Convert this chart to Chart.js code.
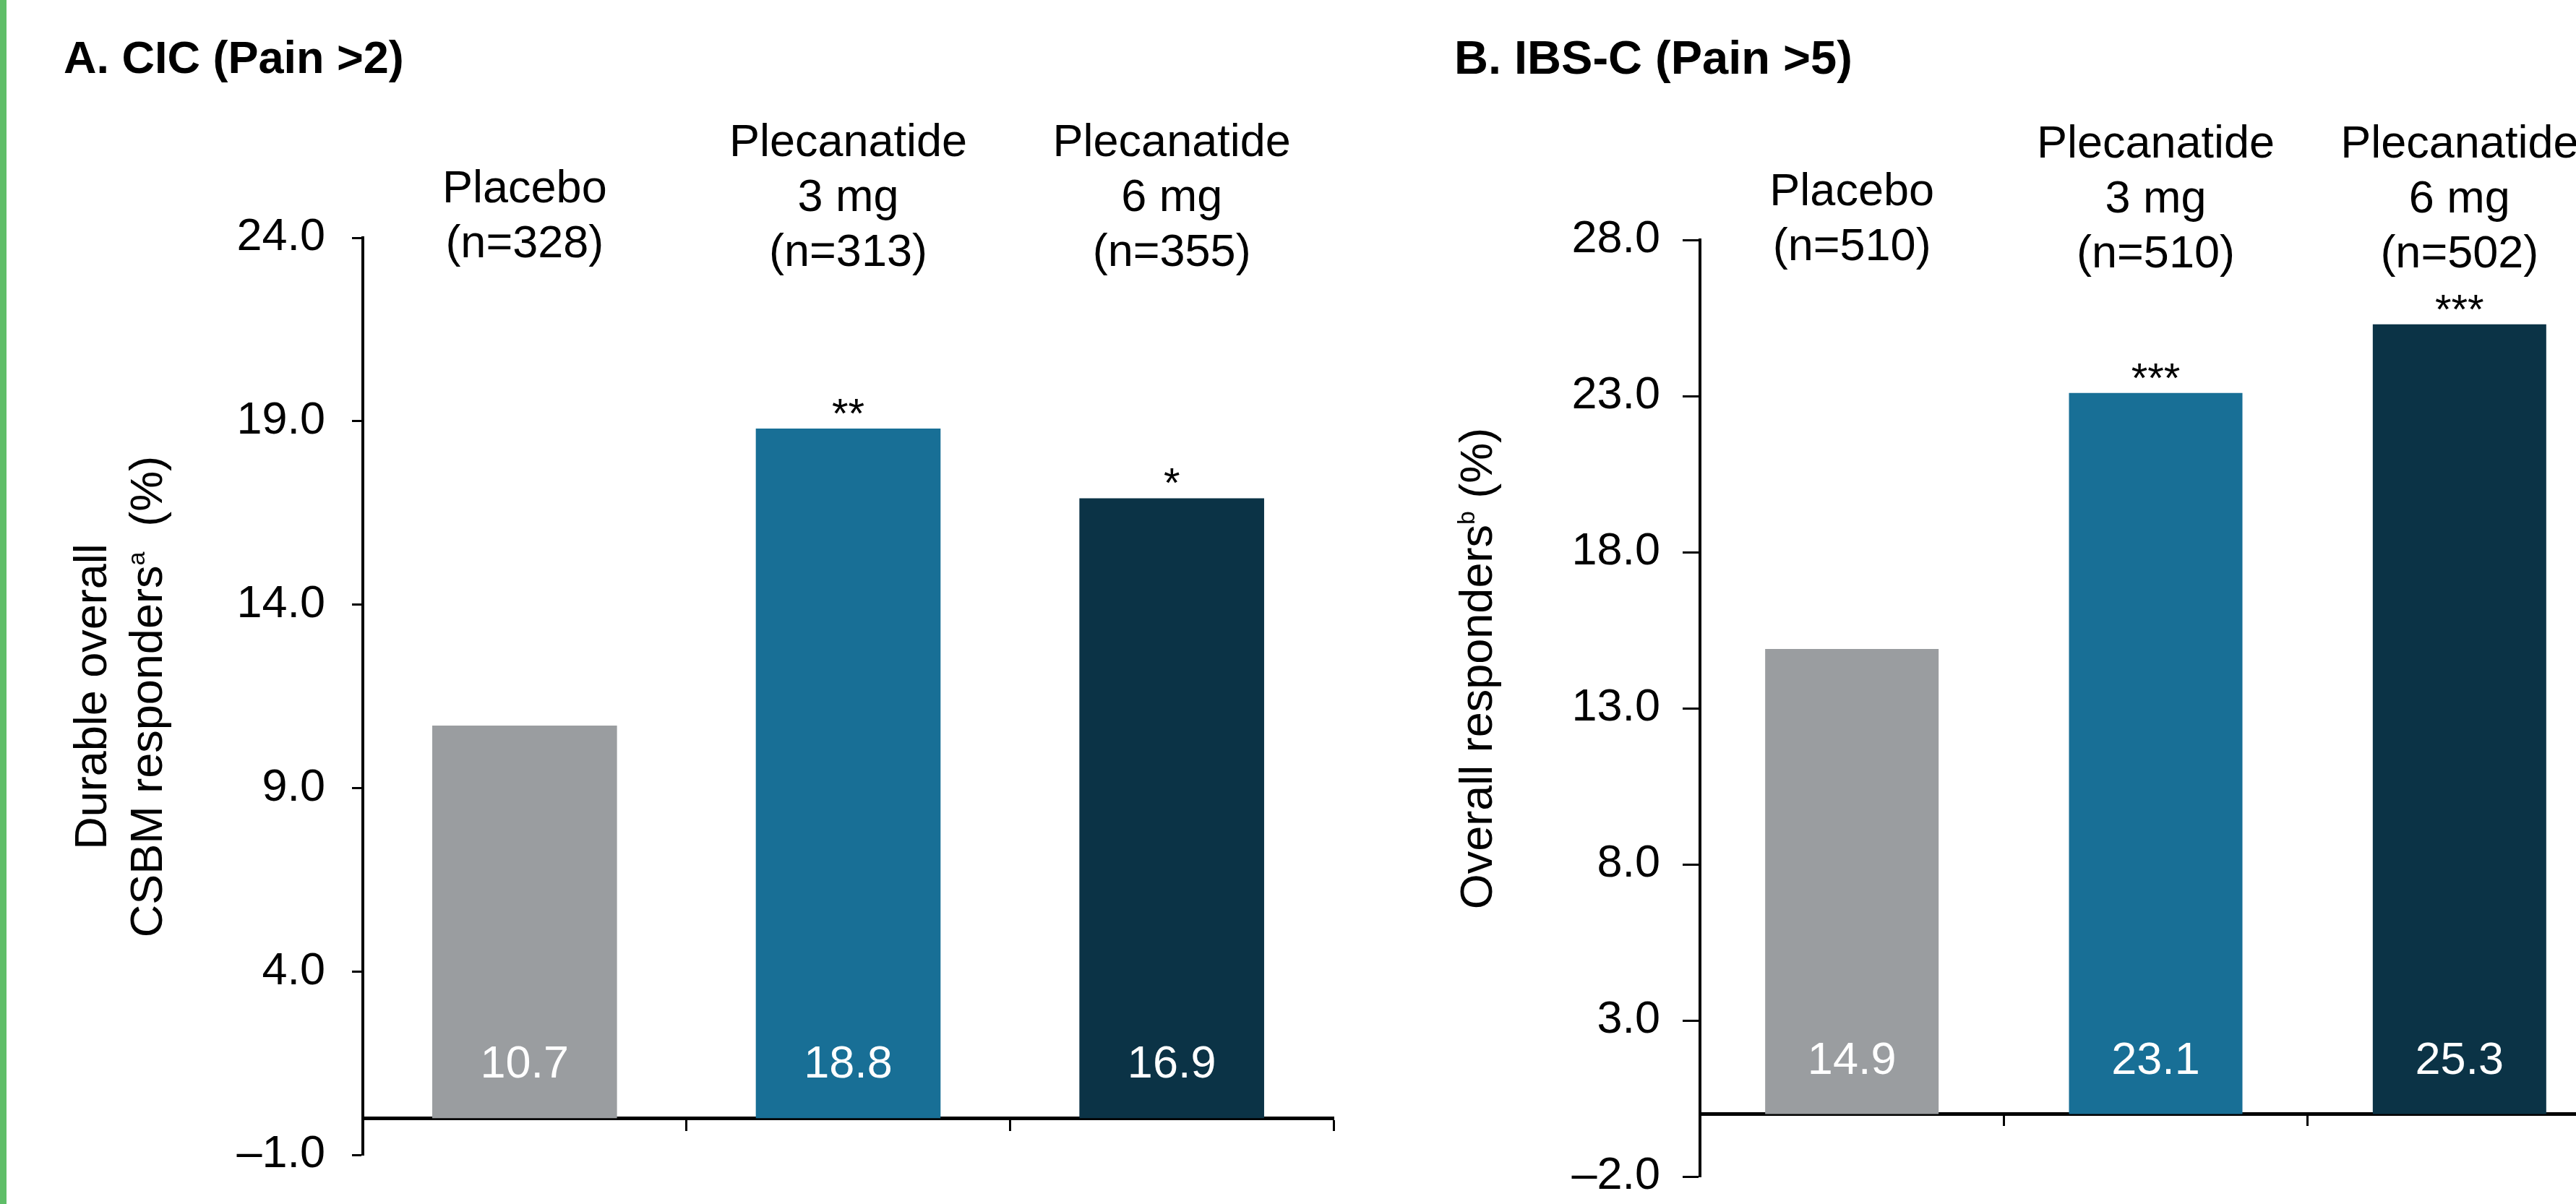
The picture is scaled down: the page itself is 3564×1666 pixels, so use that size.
<!DOCTYPE html>
<html>
<head>
<meta charset="utf-8">
<script src="https://cdn.jsdelivr.net/npm/chart.js@4.4.1/dist/chart.umd.min.js"></script>
<style>
html, body { margin: 0; padding: 0; background: #fff; overflow: hidden; width: 3564px; height: 1666px; }
#stripe { position: absolute; left: 0; top: 0; width: 9px; height: 1666px; background: #5FBE68; }
canvas { position: absolute; top: 0; }
#cA { left: 0; }
#cB { left: 1900px; }
</style>
</head>
<body>
<div id="stripe"></div>
<canvas id="cA" width="1900" height="1666"></canvas>
<canvas id="cB" width="1800" height="1666"></canvas>
<script>
// ---------- data ----------
const panelTitleA = 'A. CIC (Pain >2)';
const panelTitleB = 'B. IBS-C (Pain >5)';

const categoriesA = [['Placebo', '(n=328)'], ['Plecanatide', '3 mg', '(n=313)'], ['Plecanatide', '6 mg', '(n=355)']];
const categoriesB = [['Placebo', '(n=510)'], ['Plecanatide', '3 mg', '(n=510)'], ['Plecanatide', '6 mg', '(n=502)']];

const valuesA = [10.7, 18.8, 16.9];
const valuesB = [14.9, 23.1, 25.3];

const significanceA = ['', '**', '*'];
const significanceB = ['', '***', '***'];

const tickValuesA = [-1, 4, 9, 14, 19, 24];
const tickLabelsA = ['\u20131.0', '4.0', '9.0', '14.0', '19.0', '24.0'];
const tickValuesB = [-2, 3, 8, 13, 18, 23, 28];
const tickLabelsB = ['\u20132.0', '3.0', '8.0', '13.0', '18.0', '23.0', '28.0'];

// y-axis titles: lines of text runs; "sup" marks a superscript footnote letter
const yTitleA = [[{ t: 'Durable overall' }], [{ t: 'CSBM responders' }, { t: 'a', sup: true }, { t: '  (%)' }]];
const yTitleB = [[{ t: 'Overall responders' }, { t: 'b', sup: true }, { t: ' (%)' }]];

// ---------- styling / layout ----------
const FONT = "'Liberation Sans', Arial, Helvetica, sans-serif";
const barColors = ['#9A9DA0', '#186F96', '#0B3346'];

const panels = {
  cA: {
    title: panelTitleA, titleSize: 63, titleX: 88, titleY: 101,
    lastBase2: 356, lastBase3: 368,
    sig: significanceA, yTitle: yTitleA, yTitleX: [147, 224], yTitleY: 964,
    padding: { left: 0, top: 329, right: 55, bottom: 68 },
    yWidth: 502, yTick: 15, yPad: 37, xTick: 15
  },
  cB: {
    title: panelTitleB, titleSize: 65, titleX: 112, titleY: 102,
    lastBase2: 360, lastBase3: 370,
    sig: significanceB, yTitle: yTitleB, yTitleX: [164], yTitleY: 925,
    padding: { left: 0, top: 332, right: 87, bottom: 38 },
    yWidth: 452, yTick: 24, yPad: 31, xTick: 14
  }
};

function drawRich(ctx, runs, size, supSize, supRise) {
  let total = 0;
  const widths = runs.map(r => {
    ctx.font = (r.sup ? supSize : size) + 'px ' + FONT;
    const w = ctx.measureText(r.t).width;
    total += w;
    return w;
  });
  let x = -total / 2;
  runs.forEach((r, i) => {
    ctx.font = (r.sup ? supSize : size) + 'px ' + FONT;
    ctx.fillText(r.t, x, r.sup ? -supRise : 0);
    x += widths[i];
  });
}

const annot = {
  id: 'annot',
  afterDatasetsDraw(chart) {
    const o = panels[chart.canvas.id];
    const ctx = chart.ctx;
    const xs = chart.scales.x, ys = chart.scales.y;
    const meta = chart.getDatasetMeta(0);
    ctx.save();
    ctx.textBaseline = 'alphabetic';
    ctx.fillStyle = '#000';

    // panel title
    ctx.font = 'bold ' + o.titleSize + 'px ' + FONT;
    ctx.textAlign = 'left';
    ctx.fillText(o.title, o.titleX, o.titleY);

    // category labels above the plot
    ctx.font = '63px ' + FONT;
    ctx.textAlign = 'center';
    chart.data.labels.forEach((lines, i) => {
      const x = xs.getPixelForValue(i);
      const last = lines.length === 3 ? o.lastBase3 : o.lastBase2;
      lines.forEach((ln, j) => ctx.fillText(ln, x, last - (lines.length - 1 - j) * 76));
    });

    // values inside bars + significance marks
    const zero = ys.getPixelForValue(0);
    const data = chart.data.datasets[0].data;
    meta.data.forEach((bar, i) => {
      ctx.fillStyle = '#fff';
      ctx.font = '63px ' + FONT;
      ctx.fillText(data[i].toFixed(1), bar.x, zero - 56);
      if (o.sig[i]) {
        ctx.fillStyle = '#000';
        ctx.font = '58px ' + FONT;
        ctx.fillText(o.sig[i], bar.x, bar.y - 1);
      }
    });

    // rotated y-axis title
    ctx.fillStyle = '#000';
    ctx.textAlign = 'left';
    o.yTitle.forEach((runs, k) => {
      ctx.save();
      ctx.translate(o.yTitleX[k], o.yTitleY);
      ctx.rotate(-Math.PI / 2);
      drawRich(ctx, runs, 63, 34, 24);
      ctx.restore();
    });
    ctx.restore();
  }
};

function makeChart(id, cats, vals, tickVals, tickLabels) {
  const p = panels[id];
  return new Chart(document.getElementById(id), {
    type: 'bar',
    data: {
      labels: cats,
      datasets: [{ data: vals, backgroundColor: barColors, borderWidth: 0, barPercentage: 0.571, categoryPercentage: 1 }]
    },
    options: {
      responsive: false,
      animation: false,
      devicePixelRatio: 1,
      layout: { padding: p.padding, autoPadding: false },
      plugins: { legend: { display: false }, tooltip: { enabled: false } },
      scales: {
        x: {
          type: 'category',
          position: { y: 0 },
          offset: true,
          z: 1,
          grid: { offset: true, drawOnChartArea: false, drawTicks: true, tickLength: p.xTick, tickWidth: 3, tickColor: '#000' },
          border: { display: true, width: 5, color: '#000' },
          ticks: { display: false }
        },
        y: {
          type: 'linear',
          min: tickVals[0],
          max: tickVals[tickVals.length - 1],
          afterFit: s => { s.width = p.yWidth; s.paddingTop = 0; s.paddingBottom = 0; },
          afterBuildTicks: s => { s.ticks = tickVals.map(v => ({ value: v })); },
          grid: { drawOnChartArea: false, drawTicks: true, tickLength: p.yTick, tickWidth: 3, tickColor: '#000' },
          border: { display: true, width: 4, color: '#000' },
          ticks: {
            padding: p.yPad,
            color: '#000',
            font: { size: 63, family: FONT },
            callback: (v, i) => tickLabels[i]
          }
        }
      }
    },
    plugins: [annot]
  });
}

makeChart('cA', categoriesA, valuesA, tickValuesA, tickLabelsA);
makeChart('cB', categoriesB, valuesB, tickValuesB, tickLabelsB);
</script>
</body>
</html>
